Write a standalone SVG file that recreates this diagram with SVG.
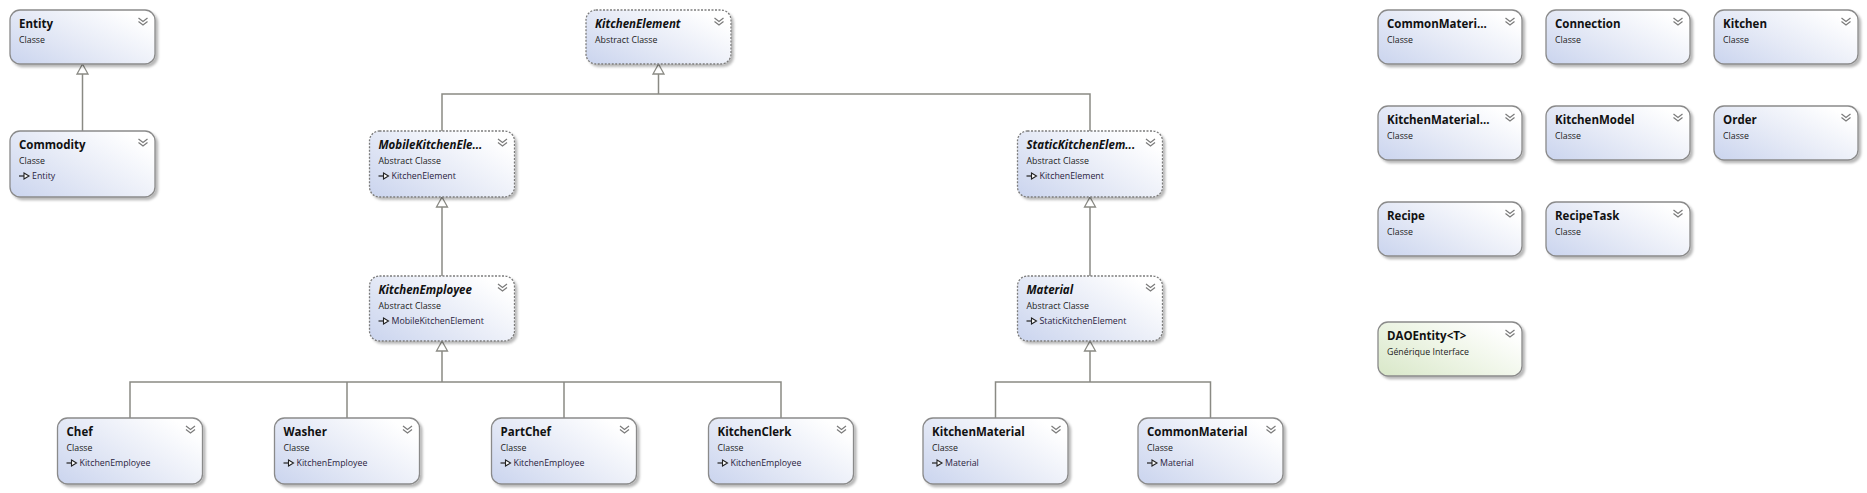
<svg xmlns="http://www.w3.org/2000/svg" width="1867" height="493" viewBox="0 0 1867 493">
<defs>
<linearGradient id="gb" x1="0" y1="1" x2="1" y2="0.3">
<stop offset="0" stop-color="#cad4ee"/>
<stop offset="0.55" stop-color="#e8ecf7"/>
<stop offset="1" stop-color="#ffffff"/>
</linearGradient>
<linearGradient id="gg" x1="0" y1="1" x2="1" y2="0.3">
<stop offset="0" stop-color="#d8e7c8"/>
<stop offset="0.55" stop-color="#eef5e6"/>
<stop offset="1" stop-color="#ffffff"/>
</linearGradient>
<filter id="sh" x="-10%" y="-10%" width="130%" height="140%">
<feDropShadow dx="2.5" dy="2.5" stdDeviation="1.2" flood-color="#000" flood-opacity="0.28"/>
</filter>
<g id="chev"><path d="M-4.5 0 L0 3.5 L4.5 0 M-4.5 3.5 L0 7 L4.5 3.5" fill="none" stroke="#7a7a7a" stroke-width="1.2"/></g>
<g id="inh"><path d="M0 0 H5" stroke="#222" stroke-width="1.2"/><path d="M5 -3 L10 0 L5 3 Z" fill="#fff" stroke="#222" stroke-width="1.1"/></g>
</defs>
<style>
.box{fill:url(#gb);stroke:#8a8a8a;stroke-width:1.3;filter:url(#sh)}
.gbox{fill:url(#gg);stroke:#8a8a8a;stroke-width:1.3;filter:url(#sh)}
.abs{stroke-dasharray:2 1.5;stroke:#7c7c7c}
.t{font-family:"Open Sans","Noto Sans",sans-serif;font-weight:bold;font-size:11.5px;fill:#111}
.ti{font-style:italic}
.s{font-family:"Open Sans","Noto Sans",sans-serif;font-size:8.8px;fill:#222}
.i{font-family:"Open Sans","Noto Sans",sans-serif;font-size:8.8px;fill:#2a2340}
.ln{fill:none;stroke:#8a8a84;stroke-width:1.5}
.ah{fill:#fff;stroke:#8a8a84;stroke-width:1.3}
</style>

<g id="connectors">
<path class="ln" d="M82.5 131 V74"/>
<path class="ah" d="M82.5 64 L77 74 L88 74 Z"/>
<path class="ln" d="M442 131 V94 H1090 V131 M658.5 94 V74"/>
<path class="ah" d="M658.5 64 L653 74 L664 74 Z"/>
<path class="ln" d="M442 276 V207"/>
<path class="ah" d="M442 197 L436.5 207 L447.5 207 Z"/>
<path class="ln" d="M1090 276 V207"/>
<path class="ah" d="M1090 197 L1084.5 207 L1095.5 207 Z"/>
<path class="ln" d="M130 418 V382 H781 V418 M347 382 V418 M564 382 V418 M442 382 V351"/>
<path class="ah" d="M442 341 L436.5 351 L447.5 351 Z"/>
<path class="ln" d="M995.5 418 V382 H1210.5 V418 M1090 382 V351"/>
<path class="ah" d="M1090 341 L1084.5 351 L1095.5 351 Z"/>
</g>

<g id="Entity" transform="translate(10,10)">
<rect class="box" width="145" height="54" rx="10"/>
<use href="#chev" x="133" y="8"/>
<text class="t" x="9" y="18">Entity</text>
<text class="s" x="9" y="33">Classe</text>
</g>
<g id="Commodity" transform="translate(10,131)">
<rect class="box" width="145" height="66" rx="10"/>
<use href="#chev" x="133" y="8"/>
<text class="t" x="9" y="18">Commodity</text>
<text class="s" x="9" y="33">Classe</text>
<use href="#inh" x="9" y="45"/>
<text class="i" x="22" y="48">Entity</text>
</g>

<g id="KitchenElement" transform="translate(586,10)">
<rect class="box abs" width="145" height="54" rx="10"/>
<use href="#chev" x="133" y="8"/>
<text class="t ti" x="9" y="18">KitchenElement</text>
<text class="s" x="9" y="33">Abstract Classe</text>
</g>

<g id="MobileKitchenElement" transform="translate(369.5,131)">
<rect class="box abs" width="145" height="66" rx="10"/>
<use href="#chev" x="133" y="8"/>
<text class="t ti" x="9" y="18">MobileKitchenEle...</text>
<text class="s" x="9" y="33">Abstract Classe</text>
<use href="#inh" x="9" y="45"/>
<text class="i" x="22" y="48">KitchenElement</text>
</g>

<g id="StaticKitchenElement" transform="translate(1017.5,131)">
<rect class="box abs" width="145" height="66" rx="10"/>
<use href="#chev" x="133" y="8"/>
<text class="t ti" x="9" y="18">StaticKitchenElem...</text>
<text class="s" x="9" y="33">Abstract Classe</text>
<use href="#inh" x="9" y="45"/>
<text class="i" x="22" y="48">KitchenElement</text>
</g>

<g id="KitchenEmployee" transform="translate(369.5,276)">
<rect class="box abs" width="145" height="65" rx="10"/>
<use href="#chev" x="133" y="8"/>
<text class="t ti" x="9" y="18">KitchenEmployee</text>
<text class="s" x="9" y="33">Abstract Classe</text>
<use href="#inh" x="9" y="45"/>
<text class="i" x="22" y="48">MobileKitchenElement</text>
</g>

<g id="Material" transform="translate(1017.5,276)">
<rect class="box abs" width="145" height="65" rx="10"/>
<use href="#chev" x="133" y="8"/>
<text class="t ti" x="9" y="18">Material</text>
<text class="s" x="9" y="33">Abstract Classe</text>
<use href="#inh" x="9" y="45"/>
<text class="i" x="22" y="48">StaticKitchenElement</text>
</g>

<g id="Chef" transform="translate(57.5,418)">
<rect class="box" width="145" height="66" rx="10"/>
<use href="#chev" x="133" y="8"/>
<text class="t" x="9" y="18">Chef</text>
<text class="s" x="9" y="33">Classe</text>
<use href="#inh" x="9" y="45"/>
<text class="i" x="22" y="48">KitchenEmployee</text>
</g>
<g id="Washer" transform="translate(274.5,418)">
<rect class="box" width="145" height="66" rx="10"/>
<use href="#chev" x="133" y="8"/>
<text class="t" x="9" y="18">Washer</text>
<text class="s" x="9" y="33">Classe</text>
<use href="#inh" x="9" y="45"/>
<text class="i" x="22" y="48">KitchenEmployee</text>
</g>
<g id="PartChef" transform="translate(491.5,418)">
<rect class="box" width="145" height="66" rx="10"/>
<use href="#chev" x="133" y="8"/>
<text class="t" x="9" y="18">PartChef</text>
<text class="s" x="9" y="33">Classe</text>
<use href="#inh" x="9" y="45"/>
<text class="i" x="22" y="48">KitchenEmployee</text>
</g>
<g id="KitchenClerk" transform="translate(708.5,418)">
<rect class="box" width="145" height="66" rx="10"/>
<use href="#chev" x="133" y="8"/>
<text class="t" x="9" y="18">KitchenClerk</text>
<text class="s" x="9" y="33">Classe</text>
<use href="#inh" x="9" y="45"/>
<text class="i" x="22" y="48">KitchenEmployee</text>
</g>
<g id="KitchenMaterial" transform="translate(923,418)">
<rect class="box" width="145" height="66" rx="10"/>
<use href="#chev" x="133" y="8"/>
<text class="t" x="9" y="18">KitchenMaterial</text>
<text class="s" x="9" y="33">Classe</text>
<use href="#inh" x="9" y="45"/>
<text class="i" x="22" y="48">Material</text>
</g>
<g id="CommonMaterial" transform="translate(1138,418)">
<rect class="box" width="145" height="66" rx="10"/>
<use href="#chev" x="133" y="8"/>
<text class="t" x="9" y="18">CommonMaterial</text>
<text class="s" x="9" y="33">Classe</text>
<use href="#inh" x="9" y="45"/>
<text class="i" x="22" y="48">Material</text>
</g>

<g id="CommonMaterialX" transform="translate(1378,10)">
<rect class="box" width="144" height="54" rx="10"/>
<use href="#chev" x="132" y="8"/>
<text class="t" x="9" y="18">CommonMateri...</text>
<text class="s" x="9" y="33">Classe</text>
</g>
<g id="Connection" transform="translate(1546,10)">
<rect class="box" width="144" height="54" rx="10"/>
<use href="#chev" x="132" y="8"/>
<text class="t" x="9" y="18">Connection</text>
<text class="s" x="9" y="33">Classe</text>
</g>
<g id="Kitchen" transform="translate(1714,10)">
<rect class="box" width="144" height="54" rx="10"/>
<use href="#chev" x="132" y="8"/>
<text class="t" x="9" y="18">Kitchen</text>
<text class="s" x="9" y="33">Classe</text>
</g>
<g id="KitchenMaterialX" transform="translate(1378,106)">
<rect class="box" width="144" height="54" rx="10"/>
<use href="#chev" x="132" y="8"/>
<text class="t" x="9" y="18">KitchenMaterial...</text>
<text class="s" x="9" y="33">Classe</text>
</g>
<g id="KitchenModel" transform="translate(1546,106)">
<rect class="box" width="144" height="54" rx="10"/>
<use href="#chev" x="132" y="8"/>
<text class="t" x="9" y="18">KitchenModel</text>
<text class="s" x="9" y="33">Classe</text>
</g>
<g id="Order" transform="translate(1714,106)">
<rect class="box" width="144" height="54" rx="10"/>
<use href="#chev" x="132" y="8"/>
<text class="t" x="9" y="18">Order</text>
<text class="s" x="9" y="33">Classe</text>
</g>
<g id="Recipe" transform="translate(1378,202)">
<rect class="box" width="144" height="54" rx="10"/>
<use href="#chev" x="132" y="8"/>
<text class="t" x="9" y="18">Recipe</text>
<text class="s" x="9" y="33">Classe</text>
</g>
<g id="RecipeTask" transform="translate(1546,202)">
<rect class="box" width="144" height="54" rx="10"/>
<use href="#chev" x="132" y="8"/>
<text class="t" x="9" y="18">RecipeTask</text>
<text class="s" x="9" y="33">Classe</text>
</g>
<g id="DAOEntity" transform="translate(1378,322)">
<rect class="gbox" width="144" height="54" rx="10"/>
<use href="#chev" x="132" y="8"/>
<text class="t" x="9" y="18">DAOEntity&lt;T&gt;</text>
<text class="s" x="9" y="33">Générique Interface</text>
</g>
</svg>
